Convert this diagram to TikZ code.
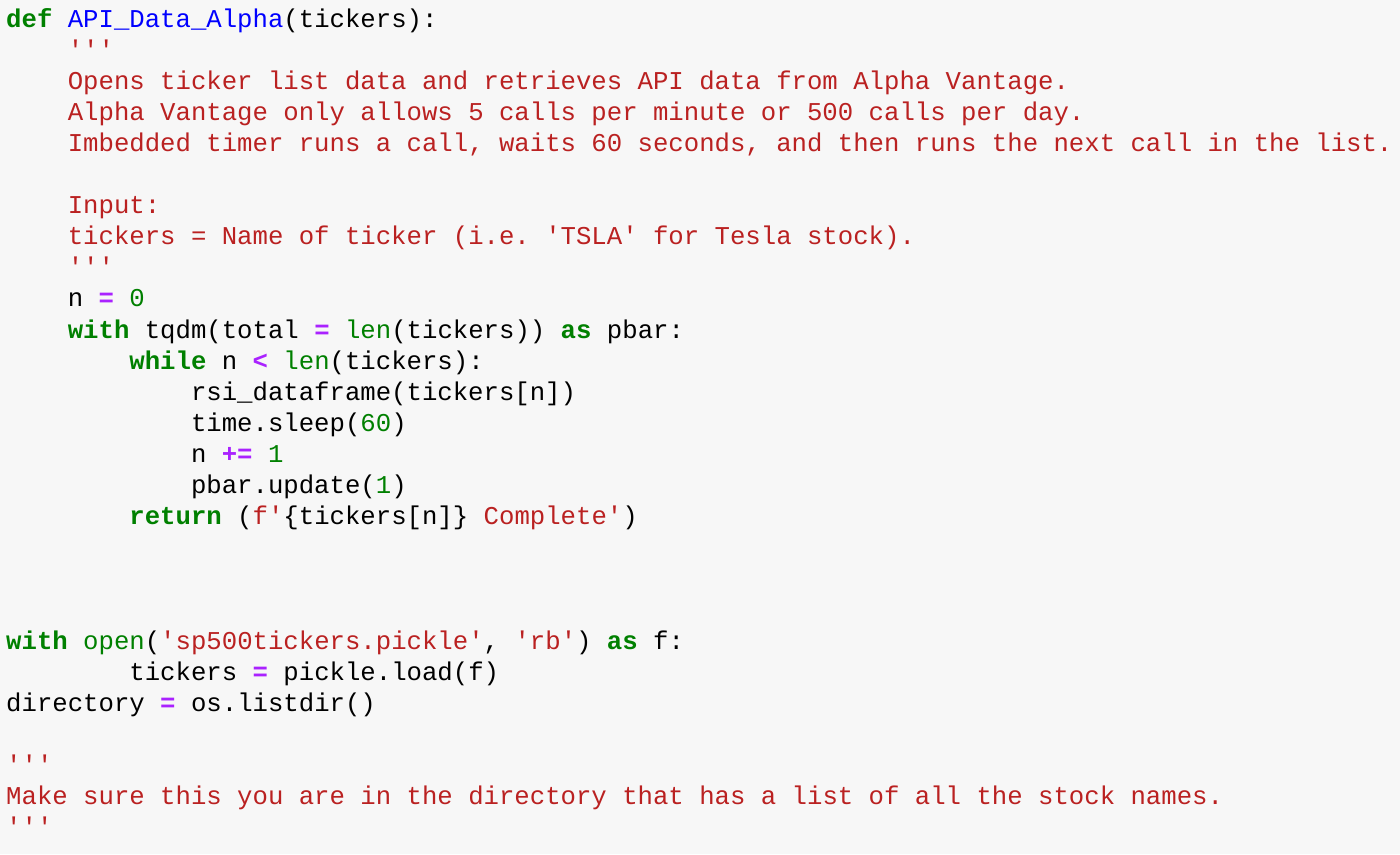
\documentclass[tikz,border=0pt]{standalone}
\usepackage{fontspec}
\setmonofont{Liberation Mono}
\definecolor{bg}{HTML}{F7F7F7}
\definecolor{kwc}{HTML}{008000}
\definecolor{src}{HTML}{BA2121}
\definecolor{opc}{HTML}{AA22FF}
\definecolor{fnc}{HTML}{0000FF}
\newcommand{\Kw}[1]{\textcolor{kwc}{\bfseries #1}}
\newcommand{\Sr}[1]{\textcolor{src}{#1}}
\newcommand{\Op}[1]{\textcolor{opc}{\bfseries #1}}
\newcommand{\Nm}[1]{\textcolor{kwc}{#1}}
\newcommand{\Fn}[1]{\textcolor{fnc}{#1}}
\begin{document}
\begin{tikzpicture}[x=1pt,y=-1pt,
  ln/.style={anchor=base west,inner sep=0pt,font=\ttfamily\fontsize{25.67}{31}\selectfont}]
\fill[bg] (0,0) rectangle (1400,854);
\useasboundingbox (0,0) rectangle (1400,854);
\def\cw{15.4}
\def\L#1#2#3{\node[ln] (l#1) at ({6+#2*\cw},{27+(#1-1)*31.1}) {#3};}
\L{1}{0}{\Kw{def} \Fn{API\_Data\_Alpha}(tickers):}
\L{2}{4}{\Sr{'{}'{}'}}
\L{3}{4}{\Sr{Opens ticker list data and retrieves API data from Alpha Vantage.}}
\L{4}{4}{\Sr{Alpha Vantage only allows 5 calls per minute or 500 calls per day.}}
\L{5}{4}{\Sr{Imbedded timer runs a call, waits 60 seconds, and then runs the next call in the list.}}
\L{7}{4}{\Sr{Input:}}
\L{8}{4}{\Sr{tickers = Name of ticker (i.e. 'TSLA' for Tesla stock).}}
\L{9}{4}{\Sr{'{}'{}'}}
\L{10}{4}{n \Op{=} \Nm{0}}
\L{11}{4}{\Kw{with} tqdm(total \Op{=} \Nm{len}(tickers)) \Kw{as} pbar:}
\L{12}{8}{\Kw{while} n \Op{<} \Nm{len}(tickers):}
\L{13}{12}{rsi\_dataframe(tickers[n])}
\L{14}{12}{time.sleep(\Nm{60})}
\L{15}{12}{n \Op{+=} \Nm{1}}
\L{16}{12}{pbar.update(\Nm{1})}
\L{17}{8}{\Kw{return} (\Sr{f'}\{tickers[n]\}\ \Sr{Complete'})}
\L{21}{0}{\Kw{with} \Nm{open}(\Sr{'sp500tickers.pickle'}, \Sr{'rb'}) \Kw{as} f:}
\L{22}{8}{tickers \Op{=} pickle.load(f)}
\L{23}{0}{directory \Op{=} os.listdir()}
\L{25}{0}{\Sr{'{}'{}'}}
\L{26}{0}{\Sr{Make sure this you are in the directory that has a list of all the stock names.}}
\L{27}{0}{\Sr{'{}'{}'}}
\end{tikzpicture}
\end{document}
